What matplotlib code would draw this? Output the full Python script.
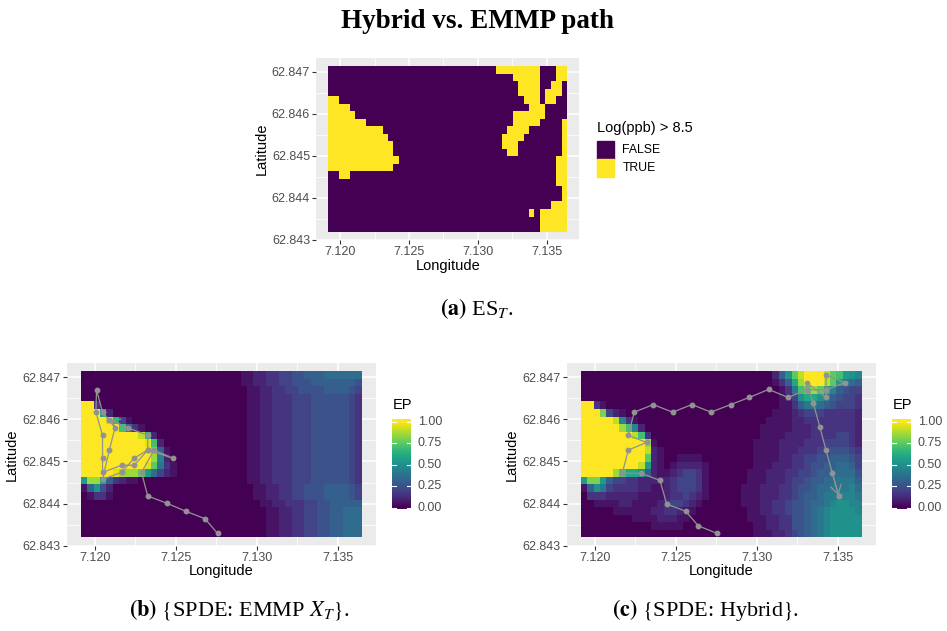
import numpy as np
import matplotlib
matplotlib.use("Agg")
import matplotlib.pyplot as plt
from matplotlib.colors import ListedColormap

plt.rcParams['mathtext.fontset'] = 'stix'
SANS = 'Liberation Sans'
SERIF = 'Liberation Serif'

# ---------------- data ----------------
# 44 x 22 raster of 20 m cells over the survey area
lon_min, lon_max = 7.11913, 7.13649
lat_min, lat_max = 62.84320, 62.84714
n_lon, n_lat = 44, 22

lon_ticks = [7.120, 7.125, 7.130, 7.135]
lat_ticks = [62.843, 62.844, 62.845, 62.846, 62.847]
ep_breaks = [0.0, 0.25, 0.5, 0.75, 1.0]

# excursion set: '#' = Log(ppb) > 8.5 (rows listed north to south)
es_rows = [
    "........... ........... .........## ######...##",
    "........... ........... ........... .#####...##",
    "........... ........... ........... ..####..##.",
    "........... ........... ........... ..####.###.",
    "##......... ........... ........... ...###.##..",
    "####....... ........... ........... ....###....",
    "#####...... ........... ........... .######....",
    "#######.... ........... ........... .#####....#",
    "##########. ........... ........... ####......#",
    "########### ........... ..........# ###.......#",
    "########### #.......... ..........# ##........#",
    "########### #.......... ........... ##........#",
    "########### ##......... ........... .........##",
    "########### #.......... ........... .........##",
    "..##....... ........... ........... .........##",
    "........... ........... ........... .........##",
    "........... ........... ........... ..........#",
    "........... ........... ........... ..........#",
    "........... ........... ........... ........###",
    "........... ........... ........... ....#.#####",
    "........... ........... ........... ......#####",
    "........... ........... ........... ......#####",
]

# excursion probabilities, coded in steps of 0.05 ('0' = 0.00 ... 'K' = 1.00)
EP_CODE = "0123456789ABCDEFGHIJK"

ep_emmp_rows = [
    "00000000000 00000000000 00011223344 55666777777",
    "00000000000 00000000000 00011223344 55566666665",
    "00000000000 00000000000 00001122334 45555666654",
    "00000000000 00000000000 00001122333 44455555543",
    "KK300000000 00000000000 00001122333 44455555543",
    "KKKC2000000 00000000000 00001122333 44455555543",
    "KKKKID41000 00000000000 00001122333 44455555543",
    "KKKKKKE7310 00000000000 00001122333 44455555543",
    "KKKKKKKKKID 20000000000 00001122333 44455555543",
    "KKKKKKKKKKJ E2000000000 00001122333 44455555543",
    "KKKKKKKKKKK G6100000000 00001122333 44455555543",
    "KKKKKKKKKKK H9200000000 00001122333 44455555543",
    "KKKKKKKKKKJ F8310000000 00001122333 44455555543",
    "KKKKKJHHHFB 74210000000 00001122333 44455555543",
    "BHHC6321100 00000000000 00001122333 44455555543",
    "16A52000000 00000000000 00000112233 44555666654",
    "01331000000 00000000000 00000112233 44555666654",
    "00000000000 00000000000 00000011223 33445566666",
    "00000000000 00000000000 00000001122 33445566777",
    "00000000000 00000000000 00000001122 33445566777",
    "00000000000 00000000000 00000001122 33445566777",
    "00000000000 00000000000 00000001122 33445566777",
]

ep_hybrid_rows = [
    "00000000000 00000000000 0000000026A FIKKKIFEBA9",
    "00000000000 00000000000 00000000136 CHKKKIFB876",
    "00000000000 00000000000 00000000013 8EFHFC96544",
    "00000000000 00000000000 00000000012 4ACCA865443",
    "KK310000000 00000000000 00000000011 36887654443",
    "KKKG4210000 00000000000 00000000111 23444333332",
    "KKKKKI93100 00000000000 00000001111 22333333332",
    "KKKKKKHE920 00000000000 00000011111 22233333332",
    "KKKKKKKKIE3 00000000000 00000011112 22233334432",
    "KKKKKKKKKKH 10000000000 00000111122 22333444432",
    "KKKKKKKKKKI 21000000000 00000111122 23334455543",
    "KKKKKKKKKKF 21001111000 00000111122 33445566654",
    "KKKKKKKKKIB 21012222100 00000111222 33455667764",
    "KKKKKHECCA6 21123443100 00001112223 34456677775",
    "BGGB6443322 22234443100 00001112223 44566778886",
    "16A84333322 11234443100 00011122233 45567788897",
    "03332222211 11233432100 00011122233 45667889998",
    "00111122111 12344321000 00011122334 5567789AA99",
    "00000111111 22332110000 00001122334 556789AAAA9",
    "00000000111 12221100000 00001112233 556789AAAAA",
    "00000000000 11111000000 00000112233 556789AAAAA",
    "00000000000 00000000000 00000111223 456789AAAAA",
]

# sampling paths (longitude, latitude), in visiting order
emmp_lon = [7.12758, 7.12680, 7.12560, 7.12443, 7.12326, 7.12288, 7.12365,
            7.12480, 7.12326, 7.12243, 7.12165, 7.12047, 7.12047, 7.12047,
            7.12006, 7.12010, 7.12047, 7.12124, 7.12089, 7.12047, 7.12165,
            7.12243, 7.12326, 7.12326, 7.12202, 7.12089]
emmp_lat = [62.84329, 62.84364, 62.84382, 62.84401, 62.84418, 62.84474, 62.84527,
            62.84508, 62.84527, 62.84491, 62.84491, 62.84474, 62.84508, 62.84562,
            62.84617, 62.84670, 62.84617, 62.84580, 62.84527, 62.84458, 62.84474,
            62.84508, 62.84527, 62.84562, 62.84580, 62.84599]

hybrid_lon = [7.12756, 7.12639, 7.12560, 7.12443, 7.12402, 7.12284, 7.12169,
              7.12206, 7.12319, 7.12206, 7.12243, 7.12360, 7.12480, 7.12599,
              7.12717, 7.12838, 7.12954, 7.13073, 7.13193, 7.13308, 7.13428,
              7.13545, 7.13428, 7.13428, 7.13308, 7.13349, 7.13390, 7.13428,
              7.13467, 7.13506]
hybrid_lat = [62.84329, 62.84347, 62.84382, 62.84399, 62.84455, 62.84472, 62.84472,
              62.84527, 62.84545, 62.84562, 62.84617, 62.84635, 62.84617, 62.84635,
              62.84617, 62.84635, 62.84652, 62.84671, 62.84652, 62.84670, 62.84670,
              62.84687, 62.84705, 62.84652, 62.84687, 62.84638, 62.84581, 62.84526,
              62.84472, 62.84419]


def decode_binary(rows):
    return np.array([[1.0 if c == '#' else 0.0 for c in r.replace(' ', '')]
                     for r in rows])


def decode_ep(rows):
    return np.array([[EP_CODE.index(c) * 0.05 for c in r.replace(' ', '')]
                     for r in rows])


# ---------------- layout helpers ----------------
W, H = 947, 631
fig = plt.figure(figsize=(W / 100, H / 100), dpi=100)
fig.patch.set_facecolor('white')


def fx(x):
    return x / W


def fy(y):
    return 1 - y / H


def add_axes_px(x0, y0, x1, y1):
    return fig.add_axes([fx(x0), fy(y1), (x1 - x0) / W, (y1 - y0) / H])


lon_edges = np.linspace(lon_min, lon_max, n_lon + 1)
lat_edges = np.linspace(lat_min, lat_max, n_lat + 1)
dlon = lon_max - lon_min
dlat = lat_max - lat_min

TICK_COL = '#4D4D4D'
PATH_COL = '#929292'


def style_panel(ax):
    ax.set_facecolor('#EBEBEB')
    ax.set_xlim(lon_min - 0.05 * dlon, lon_max + 0.05 * dlon)
    ax.set_ylim(lat_min - 0.05 * dlat, lat_max + 0.05 * dlat)
    ax.set_xticks(lon_ticks)
    ax.set_xticklabels([f"{v:.3f}" for v in lon_ticks])
    ax.set_yticks(lat_ticks)
    ax.set_yticklabels([f"{v:.3f}" for v in lat_ticks])
    ax.set_xticks([7.1225, 7.1275, 7.1325], minor=True)
    ax.set_yticks([62.8435, 62.8445, 62.8455, 62.8465], minor=True)
    ax.set_axisbelow(True)
    ax.grid(which='major', color='white', lw=1.1)
    ax.grid(which='minor', color='white', lw=0.55)
    for s in ax.spines.values():
        s.set_visible(False)
    ax.tick_params(which='major', length=3, width=0.8, color='#333333',
                   labelcolor=TICK_COL, labelsize=9, pad=1.5)
    ax.tick_params(which='minor', length=0)
    for lab in ax.get_xticklabels() + ax.get_yticklabels():
        lab.set_family(SANS)


def axis_titles(x_center, y_xlabel, x_ylabel, y_center):
    fig.text(fx(x_center), fy(y_xlabel), "Longitude", ha='center', va='center',
             fontsize=10.5, family=SANS)
    fig.text(fx(x_ylabel), fy(y_center), "Latitude", ha='center', va='center',
             rotation=90, fontsize=10.5, family=SANS)


def draw_path(ax, lons, lats):
    ax.plot(lons, lats, color=PATH_COL, lw=0.9, marker='o', ms=3.2,
            mec=PATH_COL, mfc=PATH_COL, zorder=3)
    ax.annotate('', xy=(lons[-1], lats[-1]), xytext=(lons[-2], lats[-2]),
                arrowprops=dict(arrowstyle='->,head_length=0.65,head_width=0.375',
                                color=PATH_COL, lw=0.9, shrinkA=0, shrinkB=0,
                                mutation_scale=10), zorder=3)


def ep_colorbar(x0):
    # legend title, gradient bar, white ticks and labels
    fig.text(fx(x0), fy(405), "EP", ha='left', va='center', fontsize=10.5,
             family=SANS)
    top, bot = 419.3, 509.3
    y_one, y_zero = 421.7, 507.7
    per = y_zero - y_one
    v_bot = -(bot - y_zero) / per
    v_top = 1 + (y_one - top) / per
    cax = add_axes_px(x0, top, x0 + 18.4, bot)
    vals = np.clip(np.linspace(v_bot, v_top, 300), 0, 1).reshape(-1, 1)
    cax.imshow(vals, cmap='viridis', vmin=0, vmax=1, aspect='auto',
               origin='lower', extent=[0, 1, v_bot, v_top])
    cax.set_xlim(0, 1)
    cax.set_ylim(v_bot, v_top)
    cax.axis('off')
    for b in ep_breaks:
        cax.plot([0, 0.2], [b, b], color='white', lw=0.8)
        cax.plot([0.8, 1], [b, b], color='white', lw=0.8)
        fig.text(fx(x0 + 25.4), fy(y_zero - b * per), f"{b:.2f}", ha='left',
                 va='center', fontsize=9, color=TICK_COL, family=SANS)


# ---------------- title ----------------
fig.text(fx(477), fy(28), "Hybrid vs. EMMP path", ha='center', va='baseline',
         fontsize=19.5, fontweight='bold', family=SERIF)

# ---------------- (a) excursion set ----------------
ax_a = add_axes_px(316.3, 57.7, 579.0, 240.0)
style_panel(ax_a)
es = decode_binary(es_rows)
es_cmap = ListedColormap(['#440154', '#FDE725'])
ax_a.pcolormesh(lon_edges, lat_edges, es[::-1], cmap=es_cmap, vmin=0, vmax=1,
                shading='flat', antialiased=False, zorder=1)
axis_titles(447.7, 266, 262, 148.9)

fig.text(fx(596.7), fy(127.7), "Log(ppb) > 8.5", ha='left', va='center',
         fontsize=10.5, family=SANS)
for (y0, y1), col, lab in [((141.0, 158.7), '#440154', 'FALSE'),
                           ((159.3, 176.7), '#FDE725', 'TRUE')]:
    fig.patches.append(plt.Rectangle((fx(596.7), fy(y1)), 17.6 / W, (y1 - y0) / H,
                                     transform=fig.transFigure, color=col))
    fig.text(fx(622.3), fy((y0 + y1) / 2), lab, ha='left', va='center',
             fontsize=8.8, family=SANS)

fig.text(fx(476.5), fy(315), r"$\mathbf{(a)}$ ES$_{T}$.", ha='center',
         va='baseline', fontsize=16, family=SERIF)

# ---------------- (b) EMMP ----------------
ax_b = add_axes_px(66.8, 363.0, 375.9, 545.7)
style_panel(ax_b)
ax_b.pcolormesh(lon_edges, lat_edges, decode_ep(ep_emmp_rows)[::-1],
                cmap='viridis', vmin=0, vmax=1, shading='flat',
                antialiased=False, zorder=1)
draw_path(ax_b, emmp_lon, emmp_lat)
axis_titles(221.4, 571.5, 12, 454.3)
ep_colorbar(392.3)
fig.text(fx(239), fy(616), r"$\mathbf{(b)}$ $\{$SPDE: EMMP $X_T\}$.",
         ha='center', va='baseline', fontsize=16, family=SERIF)

# ---------------- (c) Hybrid ----------------
ax_c = add_axes_px(566.8, 363.0, 875.9, 545.7)
style_panel(ax_c)
ax_c.pcolormesh(lon_edges, lat_edges, decode_ep(ep_hybrid_rows)[::-1],
                cmap='viridis', vmin=0, vmax=1, shading='flat',
                antialiased=False, zorder=1)
draw_path(ax_c, hybrid_lon, hybrid_lat)
axis_titles(721.4, 571.5, 512, 454.3)
ep_colorbar(892.3)
fig.text(fx(705), fy(616), r"$\mathbf{(c)}$ $\{$SPDE: Hybrid$\}$.",
         ha='center', va='baseline', fontsize=16, family=SERIF)

fig.savefig("out.png", dpi=100)
